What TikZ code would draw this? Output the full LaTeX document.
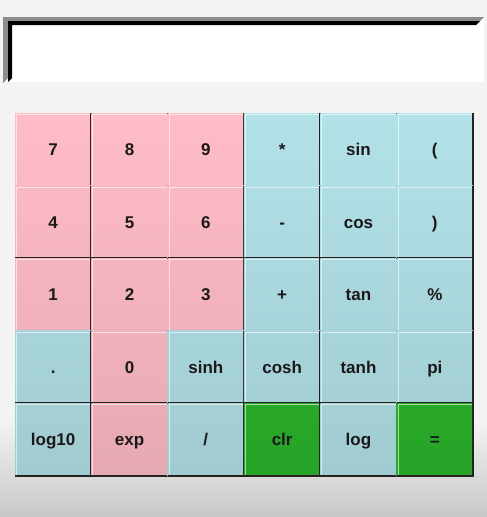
\documentclass[tikz,border=0pt]{standalone}
\usepackage{fontspec}
\setmainfont{Liberation Sans}
\definecolor{bgtop}{RGB}{243,243,243}
\definecolor{bgbot}{RGB}{200,200,200}
\definecolor{pinkc}{RGB}{255,188,200}
\definecolor{bluec}{RGB}{178,226,232}
\definecolor{greenc}{RGB}{44,182,44}
\definecolor{edgec}{RGB}{38,34,34}
\definecolor{txtc}{RGB}{28,24,26}
\definecolor{bevelc}{RGB}{140,140,140}
\tikzset{
  keybox/.style={inner sep=0pt, outer sep=0pt, minimum width=76.33pt, minimum height=72.6pt,
    text height=12.2pt, text depth=0pt,
    font=\fontsize{17}{17}\selectfont\bfseries, text=txtc},
  darkedge/.style={draw=edgec, line width=2pt, line cap=butt},
  lightedge/.style={draw=white, line width=1pt, opacity=0.6}
}
\newcommand\mykey[5]{%
  \pgfmathtruncatemacro\ftop{100-2*#3}%
  \pgfmathtruncatemacro\fbot{98-2*#3}%
  \node[keybox, top color=#4!\ftop!black, bottom color=#4!\fbot!black]
    (#1) at ({15+76.33*(#2+0.5)},{113+72.6*(#3+0.5)}) {#5};
  \draw[lightedge] ([xshift=1.5pt]#1.south west) -- ([xshift=1.5pt,yshift=-1.5pt]#1.north west) -- ([yshift=-1.5pt]#1.north east);
  \draw[darkedge] (#1.north east) -- (#1.south east) -- (#1.south west);
}
\begin{document}
\begin{tikzpicture}[x=1pt,y=-1pt]
\useasboundingbox (0,0) rectangle (487,517);
\fill[bgtop] (0,0) rectangle (487,517);
\shade[top color=bgtop, bottom color=bgbot] (0,420) rectangle (487,517);
% display
\fill[white] (3,17) rectangle (484,82);
\fill[bevelc] (3,17) -- (484,17) -- (480,21) -- (8,21) -- (8,78) -- (3,83) -- cycle;
\fill[black] (8,21) -- (480,21) -- (476,25) -- (12,25) -- (12,78) -- (8,82) -- cycle;
\node[inner sep=0pt, minimum width=472pt, minimum height=57pt] (display) at (248,53.5) {};
% keys
\mykey{k7}{0}{0}{pinkc}{7}
\mykey{k8}{1}{0}{pinkc}{8}
\mykey{k9}{2}{0}{pinkc}{9}
\mykey{kmul}{3}{0}{bluec}{*}
\mykey{ksin}{4}{0}{bluec}{sin}
\mykey{klp}{5}{0}{bluec}{(}
\mykey{k4}{0}{1}{pinkc}{4}
\mykey{k5}{1}{1}{pinkc}{5}
\mykey{k6}{2}{1}{pinkc}{6}
\mykey{ksub}{3}{1}{bluec}{-}
\mykey{kcos}{4}{1}{bluec}{cos}
\mykey{krp}{5}{1}{bluec}{)}
\mykey{k1}{0}{2}{pinkc}{1}
\mykey{k2}{1}{2}{pinkc}{2}
\mykey{k3}{2}{2}{pinkc}{3}
\mykey{kadd}{3}{2}{bluec}{+}
\mykey{ktan}{4}{2}{bluec}{tan}
\mykey{kpct}{5}{2}{bluec}{\%}
\mykey{kdot}{0}{3}{bluec}{.}
\mykey{k0}{1}{3}{pinkc}{0}
\mykey{ksinh}{2}{3}{bluec}{sinh}
\mykey{kcosh}{3}{3}{bluec}{cosh}
\mykey{ktanh}{4}{3}{bluec}{tanh}
\mykey{kpi}{5}{3}{bluec}{pi}
\mykey{klogten}{0}{4}{bluec}{log10}
\mykey{kexp}{1}{4}{pinkc}{exp}
\mykey{kdiv}{2}{4}{bluec}{/}
\mykey{kclr}{3}{4}{greenc}{clr}
\mykey{klog}{4}{4}{bluec}{log}
\mykey{keq}{5}{4}{greenc}{=}
\end{tikzpicture}
\end{document}
